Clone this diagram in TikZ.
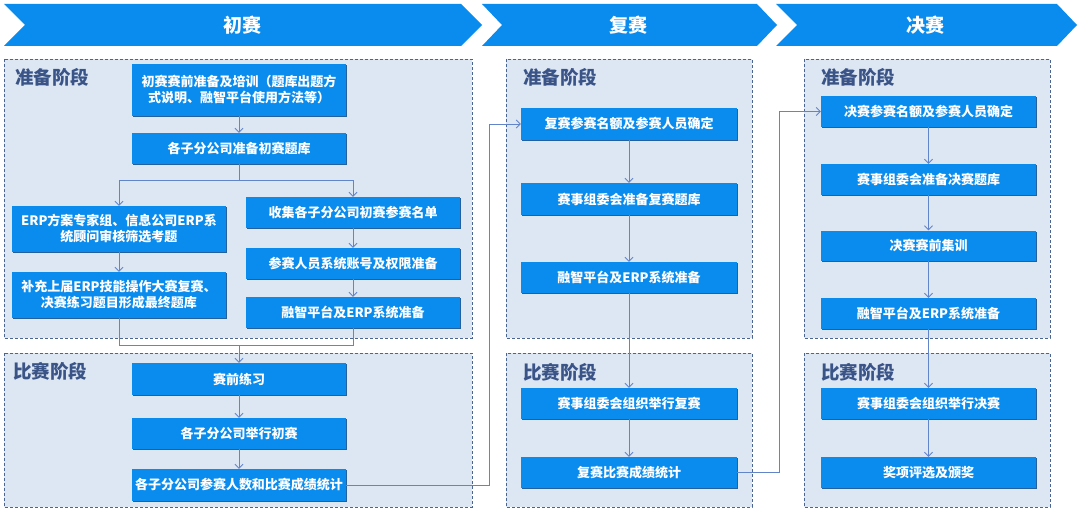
\documentclass[tikz,border=0pt]{standalone}
\usepackage{fontspec}
\setmainfont{Noto Sans CJK SC}
\usetikzlibrary{arrows.meta,shadows,calc}
\definecolor{bannerblue}{HTML}{0A8CEE}
\definecolor{boxblue}{HTML}{0A8CEE}
\definecolor{shadowblue}{HTML}{24609E}
\definecolor{panelfill}{HTML}{DDE7F3}
\definecolor{panelline}{HTML}{4A6592}
\definecolor{labelcol}{HTML}{3A5487}
\definecolor{linecol}{HTML}{6284C8}
\begin{document}
\begin{tikzpicture}[x=1pt,y=-1pt,
  bannertext/.style={text=white, font=\fontsize{19}{22}\selectfont\bfseries, inner sep=0},
  panel/.style={fill=panelfill, draw=panelline, line width=0.8pt, dash pattern=on 3pt off 2pt},
  phase/.style={text=labelcol, font=\fontsize{18.5}{22}\selectfont\bfseries, anchor=west, inner sep=0},
  stepbox/.style={fill=boxblue, text=white, font=\fontsize{13}{16}\selectfont\bfseries, align=center, inner sep=0, minimum width=214pt, minimum height=31pt, drop shadow={shadow xshift=1.3pt, shadow yshift=-1.3pt, fill=shadowblue, opacity=1}},
  arr/.style={draw=linecol, line width=0.8pt, -{Straight Barb[length=4pt,width=8pt]}},
  ln/.style={draw=linecol, line width=0.8pt}
]
\fill[white] (0,0) rectangle (1080,511);
\useasboundingbox (0,0) rectangle (1080,511);

% banners
\fill[bannerblue] (4,4) -- (461,4) -- (482,25) -- (461,46) -- (4,46) -- (25,25) -- cycle;
\fill[bannerblue] (482,4) -- (757,4) -- (777,25) -- (757,46) -- (482,46) -- (502,25) -- cycle;
\fill[bannerblue] (776,4) -- (1057,4) -- (1077,25) -- (1057,46) -- (776,46) -- (797,25) -- cycle;
\node[bannertext] (t1) at (242,25) {初赛};
\node[bannertext] (t2) at (628,25) {复赛};
\node[bannertext] (t3) at (925,25) {决赛};

% panels
\draw[panel] (4,59) rectangle (472,338);
\draw[panel] (4,353) rectangle (472,507);
\draw[panel] (506,59) rectangle (752,338);
\draw[panel] (506,353) rectangle (752,507);
\draw[panel] (804,59) rectangle (1050,338);
\draw[panel] (804,353) rectangle (1050,507);

\node[phase] (pa) at (15,77) {准备阶段};
\node[phase] (pb) at (13,371) {比赛阶段};
\node[phase] (pc) at (523,77) {准备阶段};
\node[phase] (pd) at (523,372) {比赛阶段};
\node[phase] (pe) at (821,77) {准备阶段};
\node[phase] (pf) at (821,372) {比赛阶段};

% 初赛 boxes
\node[stepbox, minimum height=52pt] (b1) at (239,90) {初赛赛前准备及培训（题库出题方\\式说明、融智平台使用方法等）};
\node[stepbox] (b2) at (239,148.5) {各子分公司准备初赛题库};
\node[stepbox, minimum height=46pt] (b3) at (119,229) {ERP方案专家组、信息公司ERP系\\统顾问审核筛选考题};
\node[stepbox] (b4) at (353,212.5) {收集各子分公司初赛参赛名单};
\node[stepbox, minimum height=46pt] (b5) at (119,295) {补充上届ERP技能操作大赛复赛、\\决赛练习题目形成最终题库};
\node[stepbox] (b6) at (353,263.5) {参赛人员系统账号及权限准备};
\node[stepbox] (b7) at (353,312.5) {融智平台及ERP系统准备};
\node[stepbox, minimum height=32pt] (b8) at (239,379) {赛前练习};
\node[stepbox] (b9) at (239,433.5) {各子分公司举行初赛};
\node[stepbox, minimum height=32pt] (b10) at (239,485) {各子分公司参赛人数和比赛成绩统计};

% 复赛 boxes
\node[stepbox, minimum width=216pt, minimum height=32pt] (c1) at (629,124) {复赛参赛名额及参赛人员确定};
\node[stepbox, minimum width=216pt, minimum height=32pt] (c2) at (629,199) {赛事组委会准备复赛题库};
\node[stepbox, minimum width=216pt] (c3) at (629,277.5) {融智平台及ERP系统准备};
\node[stepbox, minimum width=216pt] (c4) at (629,403.5) {赛事组委会组织举行复赛};
\node[stepbox, minimum width=216pt] (c5) at (629,472.5) {复赛比赛成绩统计};

% 决赛 boxes
\node[stepbox, minimum width=215pt] (d1) at (928.5,111.5) {决赛参赛名额及参赛人员确定};
\node[stepbox, minimum width=215pt] (d2) at (928.5,179.5) {赛事组委会准备决赛题库};
\node[stepbox, minimum width=215pt, minimum height=30pt] (d3) at (928.5,245.5) {决赛赛前集训};
\node[stepbox, minimum width=215pt] (d4) at (928.5,313.5) {融智平台及ERP系统准备};
\node[stepbox, minimum width=215pt] (d5) at (928.5,403.5) {赛事组委会组织举行决赛};
\node[stepbox, minimum width=215pt] (d6) at (928.5,472.5) {奖项评选及颁奖};

% 初赛 connectors
\draw[arr] (b1.south) -- (b2.north);
\coordinate (sp) at (239,180);
\draw[ln] (b2.south) -- (sp);
\draw[arr] (sp) -| (b3.north);
\draw[arr] (sp) -| (b4.north);
\draw[arr] (b3.south) -- (b5.north);
\draw[arr] (b4.south) -- (b6.north);
\draw[arr] (b6.south) -- (b7.north);
\coordinate (mg) at (239,345);
\draw[ln] (b5.south) |- (mg);
\draw[ln] (b7.south) |- (mg);
\draw[arr] (mg) -- (b8.north);
\draw[arr] (b8.south) -- (b9.north);
\draw[arr] (b9.south) -- (b10.north);
\draw[arr] (b10.east) -- ++(143,0) |- (c1.west);

% 复赛 connectors
\draw[arr] (c1.south) -- (c2.north);
\draw[arr] (c2.south) -- (c3.north);
\draw[arr] (c3.south) -- (c4.north);
\draw[arr] (c4.south) -- (c5.north);
\draw[arr] (c5.east) -- ++(42,0) |- (d1.west);

% 决赛 connectors
\draw[arr] (d1.south) -- (d2.north);
\draw[arr] (d2.south) -- (d3.north);
\draw[arr] (d3.south) -- (d4.north);
\draw[arr] (d4.south) -- (d5.north);
\draw[arr] (d5.south) -- (d6.north);
\end{tikzpicture}
\end{document}
